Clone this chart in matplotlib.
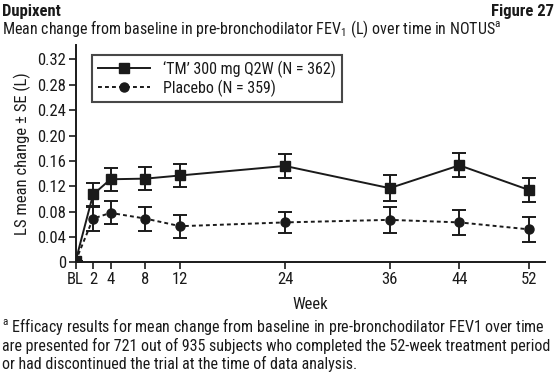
import matplotlib
matplotlib.use("Agg")
import matplotlib.pyplot as plt
from matplotlib.lines import Line2D

plt.rcParams['font.family'] = ['Roboto Condensed', 'Liberation Sans', 'DejaVu Sans']
plt.rcParams['mathtext.default'] = 'regular'

weeks = [0, 2, 4, 8, 12, 24, 36, 44, 52]
week_labels = ["BL", "2", "4", "8", "12", "24", "36", "44", "52"]
tm_mean = [0.002, 0.107, 0.131, 0.132, 0.137, 0.152, 0.117, 0.153, 0.114]
tm_se = [0.0, 0.018, 0.018, 0.018, 0.018, 0.019, 0.021, 0.019, 0.019]
pbo_mean = [0.002, 0.069, 0.078, 0.069, 0.057, 0.063, 0.067, 0.063, 0.052]
pbo_se = [0.0, 0.019, 0.018, 0.019, 0.018, 0.017, 0.020, 0.020, 0.020]
yticks = [0, 0.04, 0.08, 0.12, 0.16, 0.20, 0.24, 0.28, 0.32]
ytick_labels = ["0", "0.04", "0.08", "0.12", "0.16", "0.20", "0.24", "0.28", "0.32"]
series_labels = ["\u2018TM\u2019 300 mg Q2W (N = 362)", "Placebo (N = 359)"]

c = "#1a1a1a"
dash = (0, (2, 1.6))
fig = plt.figure(figsize=(5.56, 3.83), dpi=100)
ax = fig.add_axes([0.136, 0.315, 0.844, 0.568])

ax.errorbar(weeks, tm_mean, yerr=tm_se, color=c, lw=1.4, marker='s', ms=6.5,
            capsize=5, capthick=1.4, elinewidth=1.4, ls='-', zorder=3)
ax.errorbar(weeks, pbo_mean, yerr=pbo_se, color=c, lw=1.4, marker='o', ms=6.5,
            capsize=5, capthick=1.4, elinewidth=1.4, ls=dash, zorder=3)

ax.set_xlim(0, 53.8)
ax.set_ylim(0, 0.343)
ax.set_xticks(weeks)
ax.set_xticklabels(week_labels)
ax.set_yticks(yticks)
ax.set_yticklabels(ytick_labels)
for s in ['top', 'right']:
    ax.spines[s].set_visible(False)
for s in ['left', 'bottom']:
    ax.spines[s].set_linewidth(1.4)
    ax.spines[s].set_color(c)
ax.tick_params(axis='both', direction='out', length=5, width=1.2, colors=c,
               labelsize=12, labelcolor=c, pad=2)
ax.set_ylabel("LS mean change \u00b1 SE (L)", fontsize=12, color=c, labelpad=4)
ax.set_xlabel("Week", fontsize=12, color=c, labelpad=7)

handles = [Line2D([], [], color=c, lw=1.4, ls='-', marker='s', ms=6.5),
           Line2D([], [], color=c, lw=1.4, ls=dash, marker='o', ms=6.5)]
leg = ax.legend(handles, series_labels, loc='upper left', bbox_to_anchor=(0.025, 0.975),
                frameon=True, fancybox=False, edgecolor=c, fontsize=11.5,
                handlelength=3.3, borderpad=0.35, labelspacing=0.1, handletextpad=0.8,
                borderaxespad=0.3)
leg.get_frame().set_linewidth(1.5)
for t in leg.get_texts():
    t.set_color(c)

fig.text(0.004, 0.99, "Dupixent", fontsize=12, fontweight='bold', va='top', ha='left', color=c)
fig.text(0.996, 0.99, "Figure 27", fontsize=12, fontweight='bold', va='top', ha='right', color=c)
fig.text(0.004, 0.952, "Mean change from baseline in pre-bronchodilator FEV$_1$ (L) over time in NOTUS$^a$",
         fontsize=11.5, va='top', ha='left', color=c)
foot = ("$^a$ Efficacy results for mean change from baseline in pre-bronchodilator FEV1 over time\n"
        "are presented for 721 out of 935 subjects who completed the 52-week treatment period\n"
        "or had discontinued the trial at the time of data analysis.")
fig.text(0.004, 0.175, foot, fontsize=11.5, va='top', ha='left', color=c, linespacing=1.1)

fig.savefig("out.png", dpi=100)
